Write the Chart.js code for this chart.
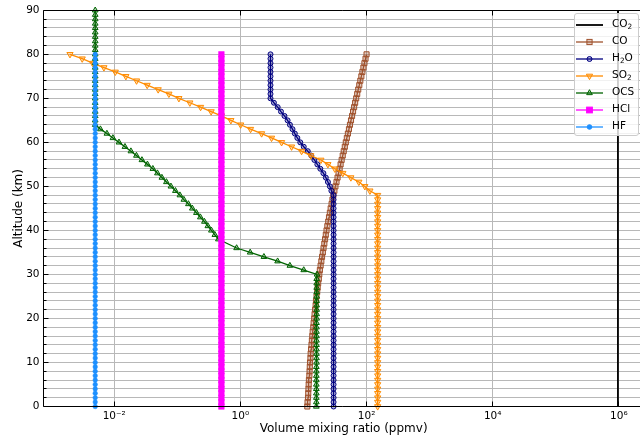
<!DOCTYPE html>
<html>
<head>
<meta charset="utf-8">
<script src="https://cdn.jsdelivr.net/npm/chart.js@4.4.1/dist/chart.umd.min.js"></script>
<style>
  html, body { margin: 0; padding: 0; background: #fff; overflow: hidden; }
  #wrap { position: relative; width: 640px; height: 440px; }
  #c { position: absolute; left: 0; top: 0; width: 640px; height: 440px; }
  .lg { position: absolute; font-family: 'DejaVu Sans', sans-serif; font-size: 10.5px; color: #000; line-height: 14px; white-space: nowrap; }
  .lg sub { font-size: 0.7em; vertical-align: -0.3em; line-height: 0; }
</style>
</head>
<body>
<div id="wrap">
  <canvas id="c" width="640" height="440"></canvas>
</div>
<script>
// ---------------- data ----------------
const altitude = [0,1,2,3,4,5,6,7,8,9,10,11,12,13,14,15,16,17,18,19,20,21,22,23,24,25,26,27,28,29,30,31,32,33,34,35,36,37,38,39,40,41,42,43,44,45,46,47,48,49,50,51,52,53,54,55,56,57,58,59,60,61,62,63,64,65,66,67,68,69,70,71,72,73,74,75,76,77,78,79,80,81,82,83,84,85,86,87,88,89,90];

const co2Altitude = [0, 90];
const co2 = [965000, 965000];

const co = [11.5,11.6,11.8,11.9,12.0,12.1,12.2,12.4,12.5,12.6,
            12.7,12.9,13.0,13.2,13.4,13.6,13.8,14.0,14.3,14.5,
            14.8,15.0,15.3,15.6,15.8,16.1,16.5,16.8,17.1,17.5,
            17.8,18.2,18.7,19.2,19.7,20.3,20.8,21.4,22.0,22.6,
            23.2,23.9,24.7,25.4,26.2,27.0,27.9,28.8,29.8,30.9,
            32.1,33.4,34.7,36.0,37.4,38.8,40.3,41.9,43.5,45.2,
            46.9,48.7,50.6,52.6,54.6,56.7,58.9,61.1,63.5,65.9,
            68.5,71.1,73.8,76.7,79.6,82.7,85.9,89.2,92.6,96.3,
            100];

const h2o = [30,30,30,30,30,30,30,30,30,30,
             30,30,30,30,30,30,30,30,30,30,
             30,30,30,30,30,30,30,30,30,30,
             30,30,30,30,30,30,30,30,30,30,
             30,30,30,30,30,30,30,30,30,27.7,
             26.2,24.4,22.6,20.7,18.5,16.6,14.9,13.3,11.7,10.1,
             8.9,8.0,7.3,6.7,6.1,5.6,5.0,4.4,3.9,3.4,
             3,3,3,3,3,3,3,3,3,3,
             3];

const so2 = [150,150,150,150,150,150,150,150,150,150,
             150,150,150,150,150,150,150,150,150,150,
             150,150,150,150,150,150,150,150,150,150,
             150,150,150,150,150,150,150,150,150,150,
             150,150,150,150,150,150,150,150,150,113,
             94,75.5,56.4,42.1,31.4,24.4,18.9,13.1,9.33,6.48,
             4.50,3.12,2.17,1.45,1.01,0.707,0.500,0.344,0.234,0.158,
             0.106,0.0736,0.0498,0.0333,0.0226,0.0153,0.0104,0.00687,0.00455,0.00311,
             0.00199];

const ocs = [16.0,16.0,16.0,16.0,16.0,16.0,16.0,16.0,16.0,16.0,
             16.1,16.1,16.1,16.1,16.1,16.1,16.1,16.1,16.1,16.1,
             16.2,16.2,16.2,16.2,16.2,16.2,16.2,16.2,16.2,16.2,
             16.4,10.1,6.09,3.89,2.36,1.43,0.871,null,0.448,0.394,
             0.347,0.305,0.269,0.232,0.201,0.173,0.150,0.127,0.110,0.0933,
             0.0792,0.0672,0.0570,0.0484,0.0410,0.0336,0.0275,0.0225,0.0184,0.0148,
             0.0119,0.00953,0.00766,0.00604,0.005,0.005,0.005,0.005,0.005,0.005,
             0.005,0.005,0.005,0.005,0.005,0.005,0.005,0.005,0.005,0.005,
             0.005,0.005,0.005,0.005,0.005,0.005,0.005,0.005,0.005,0.005,
             0.005];

const hcl = [0.5,0.5,0.5,0.5,0.5,0.5,0.5,0.5,0.5,0.5,
             0.5,0.5,0.5,0.5,0.5,0.5,0.5,0.5,0.5,0.5,
             0.5,0.5,0.5,0.5,0.5,0.5,0.5,0.5,0.5,0.5,
             0.5,0.5,0.5,0.5,0.5,0.5,0.5,0.5,0.5,0.5,
             0.5,0.5,0.5,0.5,0.5,0.5,0.5,0.5,0.5,0.5,
             0.5,0.5,0.5,0.5,0.5,0.5,0.5,0.5,0.5,0.5,
             0.5,0.5,0.5,0.5,0.5,0.5,0.5,0.5,0.5,0.5,
             0.5,0.5,0.5,0.5,0.5,0.5,0.5,0.5,0.5,0.5,
             0.5];

const hf = [0.005,0.005,0.005,0.005,0.005,0.005,0.005,0.005,0.005,0.005,
            0.005,0.005,0.005,0.005,0.005,0.005,0.005,0.005,0.005,0.005,
            0.005,0.005,0.005,0.005,0.005,0.005,0.005,0.005,0.005,0.005,
            0.005,0.005,0.005,0.005,0.005,0.005,0.005,0.005,0.005,0.005,
            0.005,0.005,0.005,0.005,0.005,0.005,0.005,0.005,0.005,0.005,
            0.005,0.005,0.005,0.005,0.005,0.005,0.005,0.005,0.005,0.005,
            0.005,0.005,0.005,0.005,0.005,0.005,0.005,0.005,0.005,0.005,
            0.005,0.005,0.005,0.005,0.005,0.005,0.005,0.005,0.005,0.005,
            0.005];

const seriesNames = ['CO<sub>2</sub>', 'CO', 'H<sub>2</sub>O', 'SO<sub>2</sub>', 'OCS', 'HCl', 'HF'];
const xTickValues = [1e-2, 1e0, 1e2, 1e4, 1e6];
const xTickLabels = ['10\u207B\u00B2', '10\u2070', '10\u00B2', '10\u2074', '10\u2076'];
const yMajorStep = 10;

// ---------------- styles ----------------
const styles = [
  { color: '#000000', marker: 'none',   fill: false, r: 0,   lw: 1.8 },
  { color: '#a0522d', marker: 'rect',   fill: false, r: 3.6, lw: 1.3 },
  { color: '#000080', marker: 'circle', fill: false, r: 2.5, lw: 1.3 },
  { color: '#ff8c00', marker: 'tdown',  fill: false, r: 3.6, lw: 1.3 },
  { color: '#006400', marker: 'tup',    fill: false, r: 3.3, lw: 1.3 },
  { color: '#ff00ff', marker: 'rect',   fill: true,  r: 4.0, lw: 1.3 },
  { color: '#1e90ff', marker: 'circle', fill: true,  r: 2.3, lw: 1.3 }
];

function toPoints(alts, vals) {
  return vals.map((v, i) => ({ x: v, y: alts[i] }));
}
function rgba(hex, a) {
  const n = parseInt(hex.slice(1), 16);
  return `rgba(${(n >> 16) & 255},${(n >> 8) & 255},${n & 255},${a})`;
}

const seriesData = [
  toPoints(co2Altitude, co2),
  toPoints(altitude, co),
  toPoints(altitude, h2o),
  toPoints(altitude, so2),
  toPoints(altitude, ocs),
  toPoints(altitude, hcl),
  toPoints(altitude, hf)
];

const datasets = seriesData.map((data, i) => {
  const s = styles[i];
  const ps = s.marker === 'rect' ? 'rect' : (s.marker === 'circle' ? 'circle' : 'triangle');
  return {
    label: seriesNames[i],
    data: data,
    showLine: true,
    spanGaps: true,
    borderColor: s.color,
    borderWidth: s.lw,
    backgroundColor: s.fill ? s.color : rgba(s.color, 0.3),
    pointStyle: s.marker === 'none' ? false : ps,
    pointRotation: s.marker === 'tdown' ? 180 : 0,
    pointRadius: s.r,
    pointHoverRadius: s.r,
    pointBorderColor: s.color,
    pointBackgroundColor: s.fill ? s.color : rgba(s.color, 0.3),
    pointBorderWidth: s.fill ? 0.5 : 1,
    order: styles.length - i,
    clip: false
  };
});

// ---------------- frame / inward ticks plugin ----------------
function al(p) { return Math.round(p - 0.5) + 0.5; }
const framePlugin = {
  id: 'frame',
  afterDatasetsDraw(chart) {
    const { ctx, chartArea: a, scales: { x, y } } = chart;
    ctx.save();
    ctx.strokeStyle = '#000';
    ctx.lineWidth = 1;
    ctx.beginPath();
    y.ticks.forEach(t => {
      const py = al(y.getPixelForValue(t.value));
      const len = (t.value % yMajorStep === 0) ? 5 : 3;
      ctx.moveTo(al(a.left), py); ctx.lineTo(al(a.left) + len, py);
    });
    x.ticks.forEach(t => {
      const px = al(x.getPixelForValue(t.value));
      ctx.moveTo(px, al(a.bottom)); ctx.lineTo(px, al(a.bottom) - 5);
      ctx.moveTo(px, al(a.top)); ctx.lineTo(px, al(a.top) + 5);
    });
    // left, top, bottom spines (right spine lies outside the picture)
    ctx.moveTo(al(a.left), al(a.top)); ctx.lineTo(a.right + 2, al(a.top));
    ctx.moveTo(al(a.left), al(a.top)); ctx.lineTo(al(a.left), al(a.bottom));
    ctx.moveTo(al(a.left), al(a.bottom)); ctx.lineTo(a.right + 2, al(a.bottom));
    ctx.stroke();
    ctx.restore();
  }
};

Chart.defaults.font.family = "'DejaVu Sans', sans-serif";
Chart.defaults.color = '#000';

const chart = new Chart(document.getElementById('c').getContext('2d'), {
  type: 'scatter',
  data: { datasets },
  options: {
    responsive: false,
    maintainAspectRatio: false,
    animation: false,
    devicePixelRatio: 1,
    layout: { autoPadding: false, padding: { top: 7.5, right: 0, left: 0, bottom: 0 } },
    plugins: { legend: { display: false }, tooltip: { enabled: false } },
    events: [],
    scales: {
      x: {
        type: 'logarithmic',
        min: 7.57e-4,
        max: 2.16e6,
        afterFit(s) { s.height = 33.5; },
        afterBuildTicks(s) { s.ticks = xTickValues.map(v => ({ value: v })); },
        ticks: {
          autoSkip: false, maxRotation: 0, padding: 3,
          font: { size: 10.5 }, color: '#000',
          callback: (v, i) => xTickLabels[i]
        },
        grid: { color: '#b8b8b8', lineWidth: 1, drawTicks: false },
        border: { display: false },
        title: { display: true, text: ' Volume mixing ratio (ppmv)', font: { size: 12 }, color: '#000', padding: { top: 0, bottom: 4 } }
      },
      y: {
        min: 0, max: 90,
        afterFit(s) { s.width = 43.5; },
        ticks: {
          stepSize: 2, autoSkip: false, padding: 4,
          font: { size: 10.5 }, color: '#000',
          callback: v => (v % yMajorStep === 0 ? String(v) : '')
        },
        grid: { color: '#b8b8b8', lineWidth: 1, drawTicks: false },
        border: { display: false },
        title: { display: true, text: 'Altitude (km)', font: { size: 12 }, color: '#000', padding: { top: 12, bottom: 0 } }
      }
    }
  },
  plugins: [framePlugin]
});

// ---------------- legend (HTML, real text) ----------------
(function buildLegend() {
  const wrap = document.getElementById('wrap');
  const box = document.createElement('div');
  box.style.cssText = 'position:absolute;left:574px;top:13px;width:65px;height:123px;box-sizing:border-box;' +
    'background:rgba(255,255,255,0.8);border:1px solid #cccccc;border-radius:3px;';
  wrap.appendChild(box);
  const rowTop = 23.3, rowStep = 16.9;
  seriesNames.forEach((name, i) => {
    const s = styles[i];
    const cy = rowTop + rowStep * i;
    const fill = s.fill ? s.color : rgba(s.color, 0.3);
    let m = '';
    const cx = 15.5, my = 6;
    if (s.marker === 'rect') {
      const h = s.r * 0.72;
      m = `<rect x="${cx - h}" y="${my - h}" width="${2 * h}" height="${2 * h}" fill="${fill}" stroke="${s.color}" stroke-width="1"/>`;
    } else if (s.marker === 'circle') {
      m = `<circle cx="${cx}" cy="${my}" r="${s.r}" fill="${fill}" stroke="${s.color}" stroke-width="1"/>`;
    } else if (s.marker === 'tdown' || s.marker === 'tup') {
      const r = s.r, sg = s.marker === 'tdown' ? -1 : 1;
      const p1 = [cx, my - sg * r], p2 = [cx + r * 0.866, my + sg * r * 0.5], p3 = [cx - r * 0.866, my + sg * r * 0.5];
      m = `<polygon points="${p1.join(',')} ${p2.join(',')} ${p3.join(',')}" fill="${fill}" stroke="${s.color}" stroke-width="1"/>`;
    }
    const el = document.createElement('div');
    el.style.cssText = `position:absolute;left:574px;top:${cy - my}px;width:32px;height:12px;`;
    el.innerHTML = `<svg width="32" height="12" xmlns="http://www.w3.org/2000/svg"><line x1="2" y1="${my}" x2="29" y2="${my}" stroke="${s.color}" stroke-width="${s.lw}"/>${m}</svg>`;
    wrap.appendChild(el);
    const t = document.createElement('div');
    t.className = 'lg';
    t.style.left = '612px';
    t.style.top = (cy - 7) + 'px';
    t.innerHTML = name;
    wrap.appendChild(t);
  });
})();
</script>
</body>
</html>
